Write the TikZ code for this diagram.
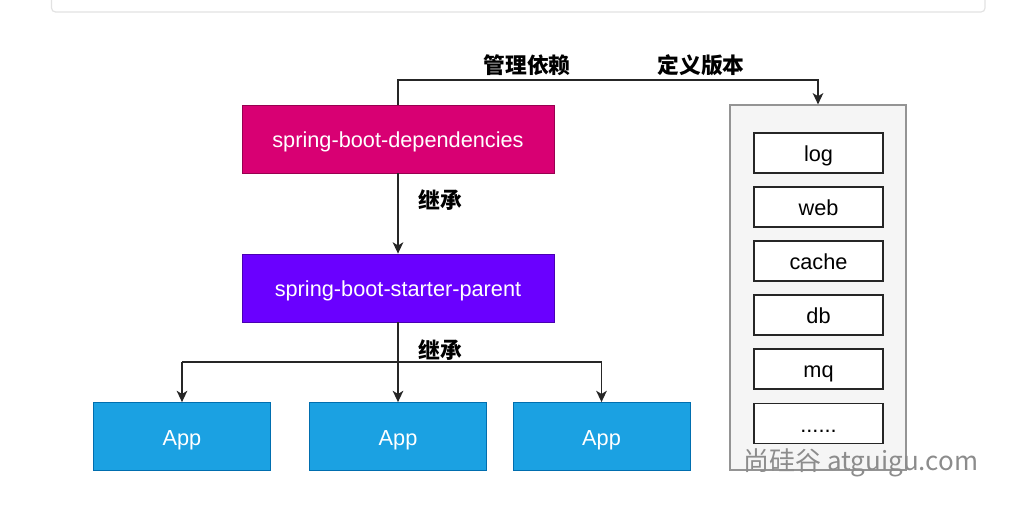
\documentclass[tikz,border=0pt]{standalone}
\usepackage{fontspec}
\setmainfont{Liberation Sans}
\newfontfamily\cjk{Noto Sans CJK SC}
\usetikzlibrary{arrows.meta}
\definecolor{pinkc}{HTML}{D80073}
\definecolor{purplec}{HTML}{6A00FF}
\definecolor{bluec}{HTML}{1BA1E2}
\definecolor{blued}{HTML}{006EAF}
\definecolor{contfill}{HTML}{F5F5F5}
\definecolor{contdraw}{HTML}{666666}
\definecolor{cardc}{HTML}{E2E2E2}
\definecolor{wmark}{HTML}{8C8C8C}
\tikzset{
  boxfont/.style={font=\fontsize{16.3pt}{19pt}\selectfont, text height=15.5pt, text depth=2.5pt},
  colbox/.style={draw=#1!70!black, fill=#1, text=white, line width=0.6pt,
    minimum width=234pt, minimum height=51pt, inner sep=0pt, boxfont},
  appbox/.style={draw=blued, fill=bluec, text=white, line width=0.6pt,
    minimum width=132.75pt, minimum height=51pt, inner sep=0pt, boxfont},
  itembox/.style={draw=black!85, fill=white, line width=0.9pt,
    minimum width=96.75pt, minimum height=30pt, inner sep=0pt, boxfont},
  container/.style={draw=contdraw!70, fill=contfill, line width=0.9pt,
    minimum width=132pt, minimum height=273.75pt, inner sep=0pt},
  conn/.style={draw=black!85, line width=1pt, -{Stealth[length=8.5pt,width=8pt,inset=2.4pt]}},
  plainconn/.style={draw=black!85, line width=1pt},
  lbl/.style={font=\cjk\bfseries\fontsize{16.3pt}{19pt}\selectfont, text=black, inner sep=0pt},
}
\begin{document}
\begin{tikzpicture}[x=0.75pt,y=-0.75pt]
\useasboundingbox (0,0) rectangle (1030,531);
% top card remnant
\begin{scope}
\clip (0,0) rectangle (1030,531);
\draw[cardc, line width=0.9pt, rounded corners=3pt] (51.5,-30) rectangle (985,12);
\end{scope}
% main nodes
\node[colbox=pinkc] (dep) at (398,139) {spring-boot-dependencies};
\node[colbox=purplec] (par) at (398,288) {spring-boot-starter-parent};
\node[appbox] (app1) at (182,436.5) {App};
\node[appbox] (app2) at (398,436.5) {App};
\node[appbox] (app3) at (601.5,436.5) {App};
% container with items
\node[container] (cont) at (818,287.5) {};
\node[itembox] (log) at (818.5,153) {log};
\node[itembox] (web) at (818.5,207) {web};
\node[itembox] (cache) at (818.5,261) {cache};
\node[itembox] (db) at (818.5,315) {db};
\node[itembox] (mq) at (818.5,369) {mq};
\node[itembox] (more) at (818.5,423.5) {......};
% connectors
\coordinate (top1) at (398,80);
\coordinate (top2) at (818,80);
\draw[conn] (dep.north) -- (top1) -- (top2) -- (cont.north);
\draw[conn] (dep.south) -- (par.north);
\coordinate (split) at (398,362);
\coordinate (splitL) at (182,362);
\coordinate (splitR) at (601.5,362);
\draw[plainconn] (par.south) -- (split);
\draw[conn] (splitL) -- (app1.north);
\draw[conn] (split) -- (app2.north);
\draw[conn] (splitR) -- (app3.north);
\draw[plainconn] (splitL) -- (splitR);
% labels
\node[lbl] (l1) at (527,65) {管理依赖};
\node[lbl] (l2) at (701,65) {定义版本};
\node[lbl] (l3) at (440,200) {继承};
\node[lbl] (l4) at (440,350) {继承};
% watermark
\node[font=\cjk\fontsize{19.5pt}{22pt}\selectfont, text=wmark, inner sep=0pt, anchor=west] (wm) at (743,463) {尚硅谷 atguigu.com};
\end{tikzpicture}
\end{document}
